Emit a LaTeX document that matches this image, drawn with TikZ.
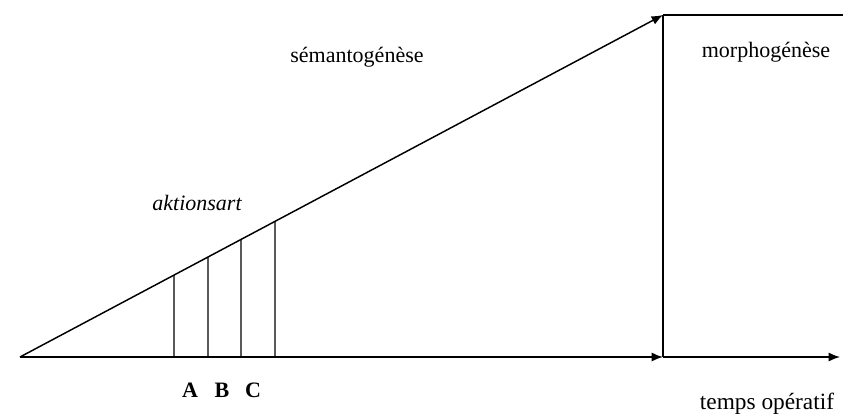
\documentclass[tikz,border=0pt]{standalone}
\usepackage{fontspec}
\setmainfont{Liberation Serif}
\usetikzlibrary{arrows.meta, calc}

\begin{document}
\begin{tikzpicture}[
    x=0.75pt, y=-0.75pt,
    every node/.style={font=\fontsize{16.5}{19}\selectfont, inner sep=0pt},
    axis/.style={line width=1.1pt},
    arrow/.style={axis, -{Latex[length=3mm, width=2.4mm]}},
    tick/.style={line width=1.1pt}
]
\useasboundingbox (0,0) rectangle (843,418);

% points of the schema
\coordinate (origin) at (20,357);
\coordinate (apex) at (663,15);
\coordinate (foot) at (663,357);
\coordinate (endaxis) at (840,357);
\coordinate (endtop) at (843,15);

% lines
\draw[arrow] (origin) -- (apex);
\draw[arrow] (origin) -- (foot);
\draw[arrow] (foot) -- (endaxis);
\draw[axis] (apex) -- (foot);
\draw[axis] (apex) -- (endtop);

% A B C stages
\foreach \x in {174,208,241,275}
    \draw[tick] (\x,357) -- ($(origin)!{(\x-20)/643}!(apex)$);

% labels
\node (semanto) at (357,57) {sémantogénèse};
\node (morpho) at (766,52) {morphogénèse};
\node[font=\fontsize{16.5}{19}\selectfont\itshape] (aktion) at (197,203) {aktionsart};
\node[font=\fontsize{16.5}{19}\selectfont\bfseries] (stA) at (190,390) {A};
\node[font=\fontsize{16.5}{19}\selectfont\bfseries] (stB) at (222,390) {B};
\node[font=\fontsize{16.5}{19}\selectfont\bfseries] (stC) at (253,390) {C};
\node[font=\fontsize{17.5}{20}\selectfont] (temps) at (767,404) {temps opératif};

\end{tikzpicture}
\end{document}
